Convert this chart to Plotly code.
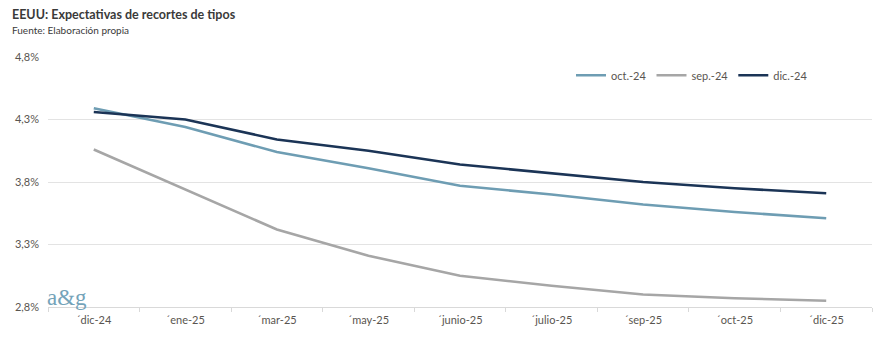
import plotly.graph_objects as go

categories = ["´dic-24", "´ene-25", "´mar-25", "´may-25", "´junio-25",
              "´julio-25", "´sep-25", "´oct-25", "´dic-25"]
oct24 = [4.39, 4.24, 4.04, 3.91, 3.77, 3.70, 3.62, 3.56, 3.51]
sep24 = [4.06, 3.74, 3.42, 3.21, 3.05, 2.97, 2.90, 2.87, 2.85]
dic24 = [4.36, 4.30, 4.14, 4.05, 3.94, 3.87, 3.80, 3.75, 3.71]
y_ticks = [2.8, 3.3, 3.8, 4.3, 4.8]
y_labels = ["2,8%", "3,3%", "3,8%", "4,3%", "4,8%"]

FONT = "Lato"
TXT = "#595550"
PW = 891 - 48 - 19

fig = go.Figure()
for name, vals, col in [("oct.-24", oct24, "#6e9db3"),
                        ("sep.-24", sep24, "#a6a6a6"),
                        ("dic.-24", dic24, "#1b3456")]:
    fig.add_trace(go.Scatter(x=categories, y=vals, name=name, mode="lines",
                             line=dict(color=col, width=2.6)))

fig.update_layout(
    width=891, height=348,
    margin=dict(l=48, r=19, t=57, b=41),
    paper_bgcolor="white", plot_bgcolor="white",
    font=dict(family=FONT, size=11, color=TXT),
    showlegend=True,
    legend=dict(orientation="h", x=(571 - 48) / PW, xanchor="left", y=0.985, yanchor="top",
                font=dict(size=11, color=TXT), bgcolor="rgba(0,0,0,0)",
                itemwidth=30, tracegroupgap=0),
    xaxis=dict(type="category", tickson="boundaries", range=[-0.5, 8.5],
               showgrid=False, showline=True, linecolor="#d9d9d9", linewidth=1,
               ticks="outside", ticklen=4, tickcolor="#d9d9d9", ticklabelstandoff=3,
               tickfont=dict(size=11, color=TXT), fixedrange=True),
    yaxis=dict(range=[2.8, 4.8], tickmode="array", tickvals=y_ticks, ticktext=y_labels,
               showgrid=True, gridcolor="#e3e3e3", gridwidth=1,
               zeroline=False, showline=False, ticks="", ticklabelstandoff=8,
               tickfont=dict(size=11, color=TXT), fixedrange=True),
    annotations=[
        dict(text="<b>EEUU: Expectativas de recortes de tipos</b>", xref="paper", yref="paper",
             x=-38 / PW, y=1 + (57 - 14) / 250, xanchor="left", yanchor="middle",
             showarrow=False, font=dict(size=12.5, color="#3a3a3a", family=FONT)),
        dict(text="Fuente: Elaboración propia", xref="paper", yref="paper",
             x=-38 / PW, y=1 + (57 - 30) / 250, xanchor="left", yanchor="middle",
             showarrow=False, font=dict(size=10, color="#3a3a3a", family=FONT)),
        dict(text="a&amp;g", xref="paper", yref="paper",
             x=-3 / PW, y=(307 - 297) / 250, xanchor="left", yanchor="middle",
             showarrow=False, font=dict(size=23, color="#74a3b9", family="Liberation Serif")),
    ],
)

fig.write_html("out.html")
